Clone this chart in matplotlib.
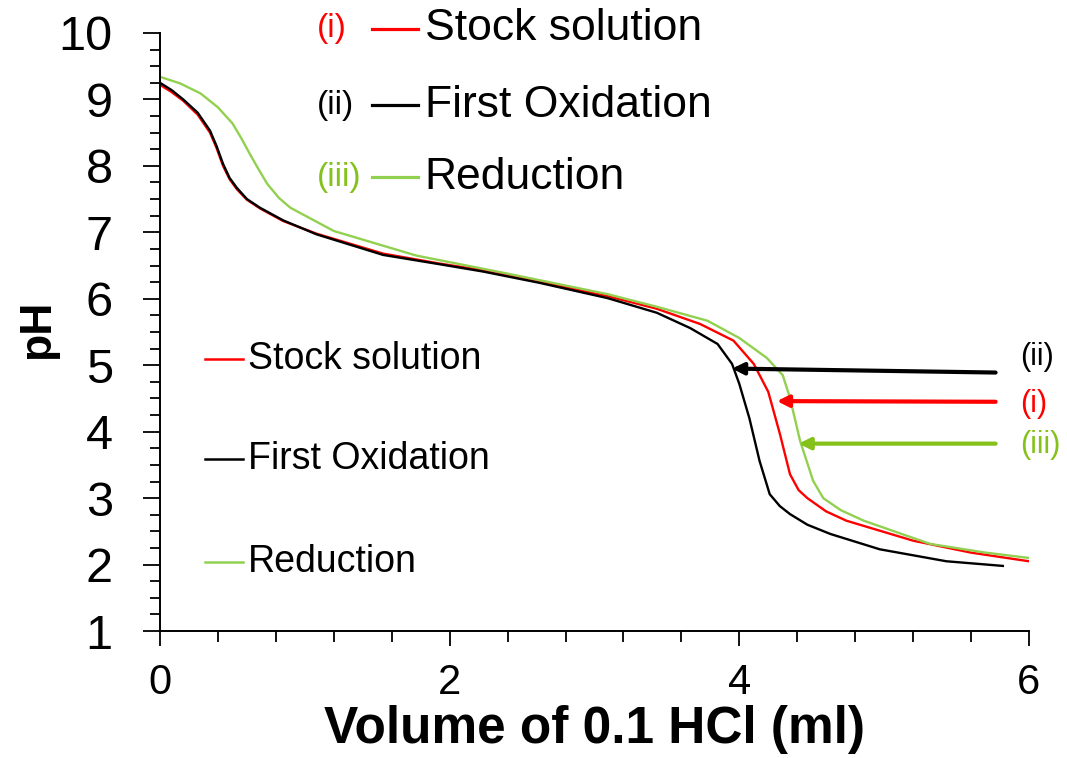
import matplotlib.pyplot as plt
from matplotlib.lines import Line2D
from matplotlib.ticker import MultipleLocator
from matplotlib import font_manager

plt.rcParams['font.family'] = ['Liberation Sans', 'DejaVu Sans']

# titration curves
stock_x = [0, 0.08, 0.16, 0.26, 0.345, 0.39, 0.435, 0.48, 0.53, 0.6, 0.69, 0.85,
           1.08, 1.54, 1.93, 2.23, 2.62, 3.09, 3.43, 3.73, 3.96, 4.1, 4.2, 4.28,
           4.35, 4.41, 4.47, 4.6, 4.74, 5.2, 5.6, 6.0]
stock_y = [9.22, 9.11, 8.98, 8.77, 8.5, 8.27, 8.0, 7.8, 7.65, 7.49, 7.36, 7.17,
           6.98, 6.68, 6.53, 6.43, 6.26, 6.04, 5.85, 5.62, 5.37, 5.02, 4.6, 3.97,
           3.36, 3.12, 3.0, 2.8, 2.66, 2.36, 2.18, 2.05]

oxid_x = [0, 0.08, 0.16, 0.26, 0.345, 0.39, 0.435, 0.48, 0.53, 0.6, 0.69, 0.85,
          1.08, 1.54, 1.93, 2.23, 2.62, 3.09, 3.43, 3.66, 3.85, 3.95, 4.0, 4.07,
          4.14, 4.21, 4.28, 4.35, 4.47, 4.63, 4.97, 5.43, 5.82]
oxid_y = [9.25, 9.14, 9.0, 8.8, 8.53, 8.3, 8.03, 7.82, 7.67, 7.5, 7.37, 7.18,
          6.97, 6.66, 6.52, 6.41, 6.24, 6.01, 5.79, 5.56, 5.32, 5.02, 4.72, 4.2,
          3.56, 3.06, 2.88, 2.76, 2.6, 2.46, 2.23, 2.05, 1.98]

red_x = [0, 0.14, 0.28, 0.4, 0.5, 0.56, 0.62, 0.68, 0.74, 0.82, 0.9, 1.2, 1.77,
         2.35, 2.62, 3.09, 3.43, 3.78, 4.0, 4.19, 4.3, 4.35, 4.42, 4.51, 4.58,
         4.7, 4.86, 5.32, 5.7, 6.0]
red_y = [9.34, 9.24, 9.09, 8.88, 8.64, 8.42, 8.18, 7.95, 7.73, 7.52, 7.37, 7.02,
         6.65, 6.40, 6.28, 6.07, 5.88, 5.67, 5.41, 5.11, 4.85, 4.51, 3.86, 3.26,
         3.0, 2.82, 2.66, 2.31, 2.18, 2.10]

labels = ['Stock solution', 'First Oxidation', 'Reduction']
tags = ['(i)', '(ii)', '(iii)']
line_colors = ['#FF0000', '#000000', '#92D050']
tag_colors = ['#FF0000', '#000000', '#84C11A']

# arrows pointing at the equivalence points
arrow_tail_x = [5.77, 5.77, 5.77]
arrow_tail_y = [4.45, 4.89, 3.82]
arrow_head_x = [4.26, 3.95, 4.41]
arrow_head_y = [4.46, 4.95, 3.82]

narrow = 'Liberation Sans Narrow'
names = {f.name for f in font_manager.fontManager.ttflist}
if narrow not in names:
    narrow = 'Liberation Sans'

fig = plt.figure(figsize=(10.67, 7.58), dpi=100)
ax = fig.add_axes([0.15, 0.1675, 0.8143, 0.789])

series = [(stock_x, stock_y), (oxid_x, oxid_y), (red_x, red_y)]
for (xs, ys), lab, c in zip(series, labels, line_colors):
    ax.plot(xs, ys, color=c, lw=1.7, label=lab, solid_joinstyle='round')

ax.set_xlim(0, 6)
ax.set_ylim(1, 10)
ax.spines['top'].set_visible(False)
ax.spines['right'].set_visible(False)
ax.spines['left'].set_linewidth(1.4)
ax.spines['bottom'].set_linewidth(1.4)
ax.xaxis.set_major_locator(MultipleLocator(2))
ax.xaxis.set_minor_locator(MultipleLocator(0.4))
ax.yaxis.set_major_locator(MultipleLocator(1))
ax.yaxis.set_minor_locator(MultipleLocator(0.25))
ax.tick_params(axis='x', which='major', length=11, width=1.3, labelsize=30, pad=12)
ax.tick_params(axis='x', which='minor', length=8, width=1.3)
ax.tick_params(axis='y', which='major', length=12, width=1.3, labelsize=35, pad=22)
ax.tick_params(axis='y', which='minor', length=7, width=1.3)
for t in ax.get_xticklabels():
    t.set_fontfamily(narrow)

fig.text(0.557, 0.037, 'Volume of 0.1 HCl (ml)', fontsize=37, fontweight='bold',
         ha='center', va='center')
fig.text(0.035, 0.565, 'pH', fontsize=32, fontweight='bold', rotation=90,
         ha='center', va='center')

# arrows and their tags
for i in range(3):
    c = tag_colors[i]
    ax.annotate('', xy=(arrow_head_x[i], arrow_head_y[i]),
                xytext=(arrow_tail_x[i], arrow_tail_y[i]),
                arrowprops=dict(arrowstyle='-|>', color=c, lw=3.0,
                                mutation_scale=17, shrinkA=0, shrinkB=0))
side_y = [0.467, 0.529, 0.413]
for i in range(3):
    fig.text(0.956, side_y[i], tags[i], color=tag_colors[i], fontsize=22,
             ha='left', va='center')

# big legend at the top
top_y = [0.962, 0.861, 0.766]
for i in range(3):
    fig.text(0.297, top_y[i], tags[i], color=tag_colors[i], fontsize=24,
             ha='left', va='center')
    fig.add_artist(Line2D([0.349, 0.392], [top_y[i], top_y[i]],
                          color=line_colors[i], lw=2.3))
    fig.text(0.398, top_y[i], labels[i], color='black', fontsize=32,
             ha='left', va='center')

# small legend inside the plot
small_y = [0.526, 0.394, 0.259]
for i in range(3):
    fig.add_artist(Line2D([0.192, 0.228], [small_y[i], small_y[i]],
                          color=line_colors[i], lw=1.8))
    fig.text(0.2325, small_y[i], labels[i], color='black', fontsize=27,
             ha='left', va='center')

fig.savefig('out.png', dpi=100)
